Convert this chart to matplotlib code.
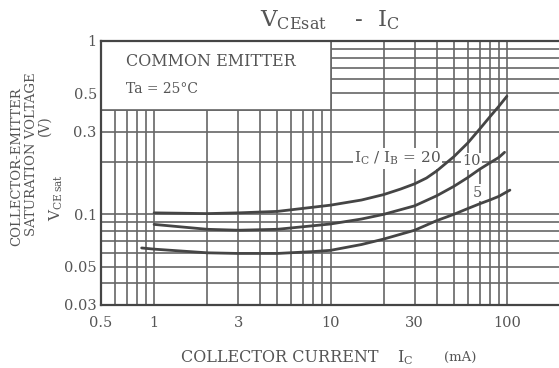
import numpy as np
import matplotlib
matplotlib.use("Agg")
import matplotlib.pyplot as plt
from matplotlib.patches import Rectangle

# VCE(sat) vs IC (mA, V)
ic_20 = [1, 2, 3, 5, 8, 10, 15, 20, 25, 30, 35, 40, 50, 60, 70, 80, 90, 100]
v_20 = [0.102, 0.101, 0.102, 0.104, 0.110, 0.113, 0.121, 0.130, 0.140, 0.150,
        0.162, 0.178, 0.215, 0.258, 0.31, 0.365, 0.42, 0.48]

ic_10 = [1, 2, 3, 5, 8, 10, 15, 20, 30, 40, 50, 60, 70, 80, 90, 97]
v_10 = [0.0875, 0.082, 0.081, 0.082, 0.086, 0.088, 0.094, 0.100, 0.112, 0.128,
        0.145, 0.163, 0.182, 0.198, 0.213, 0.228]

ic_5 = [0.85, 1, 2, 3, 5, 8, 10, 15, 20, 30, 40, 50, 60, 70, 80, 90, 104]
v_5 = [0.064, 0.063, 0.060, 0.0595, 0.0595, 0.061, 0.062, 0.067, 0.072, 0.081,
       0.092, 0.100, 0.108, 0.115, 0.121, 0.127, 0.138]

x_ticks = [0.5, 1, 3, 10, 30, 100]
x_tick_labels = ["0.5", "1", "3", "10", "30", "100"]
y_ticks = [0.03, 0.05, 0.1, 0.3, 0.5, 1]
y_tick_labels = ["0.03", "0.05", "0.1", "0.3", "0.5", "1"]

# log paper grid
x_grid = [0.5, 0.6, 0.7, 0.8, 0.9, 1, 2, 3, 4, 5, 6, 7, 8, 9,
          10, 20, 30, 40, 50, 60, 70, 80, 90, 100]
y_grid = [0.03, 0.04, 0.05, 0.06, 0.07, 0.08, 0.09, 0.1,
          0.2, 0.3, 0.4, 0.5, 0.6, 0.7, 0.8, 0.9, 1]

ink = "#454545"
grid_c = "#666666"
txt = "#555555"
serif = "DejaVu Serif"

fig = plt.figure(figsize=(5.59, 3.68), dpi=100)
ax = fig.add_axes([101 / 559, 63 / 368, 459 / 559, 264 / 368])
ax.set_xscale("log")
ax.set_yscale("log")
ax.set_xlim(0.5, 200)
ax.set_ylim(0.03, 1)

for xv in x_grid:
    ax.axvline(xv, color=grid_c, lw=1.2, zorder=1)
for yv in y_grid:
    ax.axhline(yv, color=grid_c, lw=1.2, zorder=1)

# white label box, upper left
ax.add_patch(Rectangle((0.5, 0.4), 9.5, 0.6, facecolor="white",
                       edgecolor=grid_c, lw=1.2, zorder=2))
ax.text(0.69, 0.76, "COMMON EMITTER", family=serif, fontsize=11.5,
        color=txt, va="center", zorder=3)
ax.text(0.69, 0.53, "Ta = 25°C", family=serif, fontsize=10,
        color=txt, va="center", zorder=3)

ax.plot(ic_20, v_20, color=ink, lw=2, zorder=4, solid_capstyle="round")
ax.plot(ic_10, v_10, color=ink, lw=2, zorder=4, solid_capstyle="round")
ax.plot(ic_5, v_5, color=ink, lw=2, zorder=4, solid_capstyle="round")

wb = dict(facecolor="white", edgecolor="none", pad=1)
ax.text(24, 0.21, r"I$_\mathregular{C}$ / I$_\mathregular{B}$ = 20", family=serif,
        fontsize=11, color=txt, ha="center", va="center", bbox=wb, zorder=3)
ax.text(63, 0.203, "10", family=serif, fontsize=10.5, color=txt,
        ha="center", va="center", bbox=wb, zorder=3)
ax.text(68, 0.133, "5", family=serif, fontsize=10.5, color=txt,
        ha="center", va="center", bbox=wb, zorder=3)

ax.set_xticks(x_ticks)
ax.set_xticklabels(x_tick_labels)
ax.set_yticks(y_ticks)
ax.set_yticklabels(y_tick_labels)
ax.minorticks_off()
ax.tick_params(length=0, labelsize=10.5, labelcolor=txt)
ax.tick_params(axis="x", pad=8)
ax.tick_params(axis="y", pad=3)
for lab in ax.get_xticklabels() + ax.get_yticklabels():
    lab.set_family(serif)

for s in ["top", "bottom", "left"]:
    ax.spines[s].set_color(ink)
    ax.spines[s].set_linewidth(1.6)
ax.spines["right"].set_visible(False)

fig.text(330 / 559, 1 - 20 / 368, r"V$_\mathregular{CEsat}$    -  I$_\mathregular{C}$",
         family=serif, fontsize=16.5, color=txt, ha="center", va="center")

# x axis title, pieces spaced like the original
fig.text(280 / 559, 1 - 358 / 368, "COLLECTOR CURRENT", family=serif, fontsize=11.5,
         color=txt, ha="center", va="center")
fig.text(405 / 559, 1 - 358 / 368, r"I$_\mathregular{C}$", family=serif, fontsize=11.5,
         color=txt, ha="center", va="center")
fig.text(460 / 559, 1 - 357 / 368, "(mA)", family=serif, fontsize=9.5,
         color=txt, ha="center", va="center")

fig.text(17 / 559, 1 - 167 / 368, "COLLECTOR-EMITTER", family=serif, fontsize=9.5,
         color=txt, rotation=90, ha="center", va="center")
fig.text(32 / 559, 1 - 154 / 368, "SATURATION VOLTAGE", family=serif, fontsize=9.5,
         color=txt, rotation=90, ha="center", va="center")
fig.text(45 / 559, 1 - 126 / 368, "(V)", family=serif, fontsize=10,
         color=txt, rotation=90, ha="center", va="center")
fig.text(56 / 559, 1 - 198 / 368, r"V$_\mathregular{CE\,sat}$", family=serif,
         fontsize=11, color=txt, rotation=90, ha="center", va="center")

fig.savefig("out.png", dpi=100)
